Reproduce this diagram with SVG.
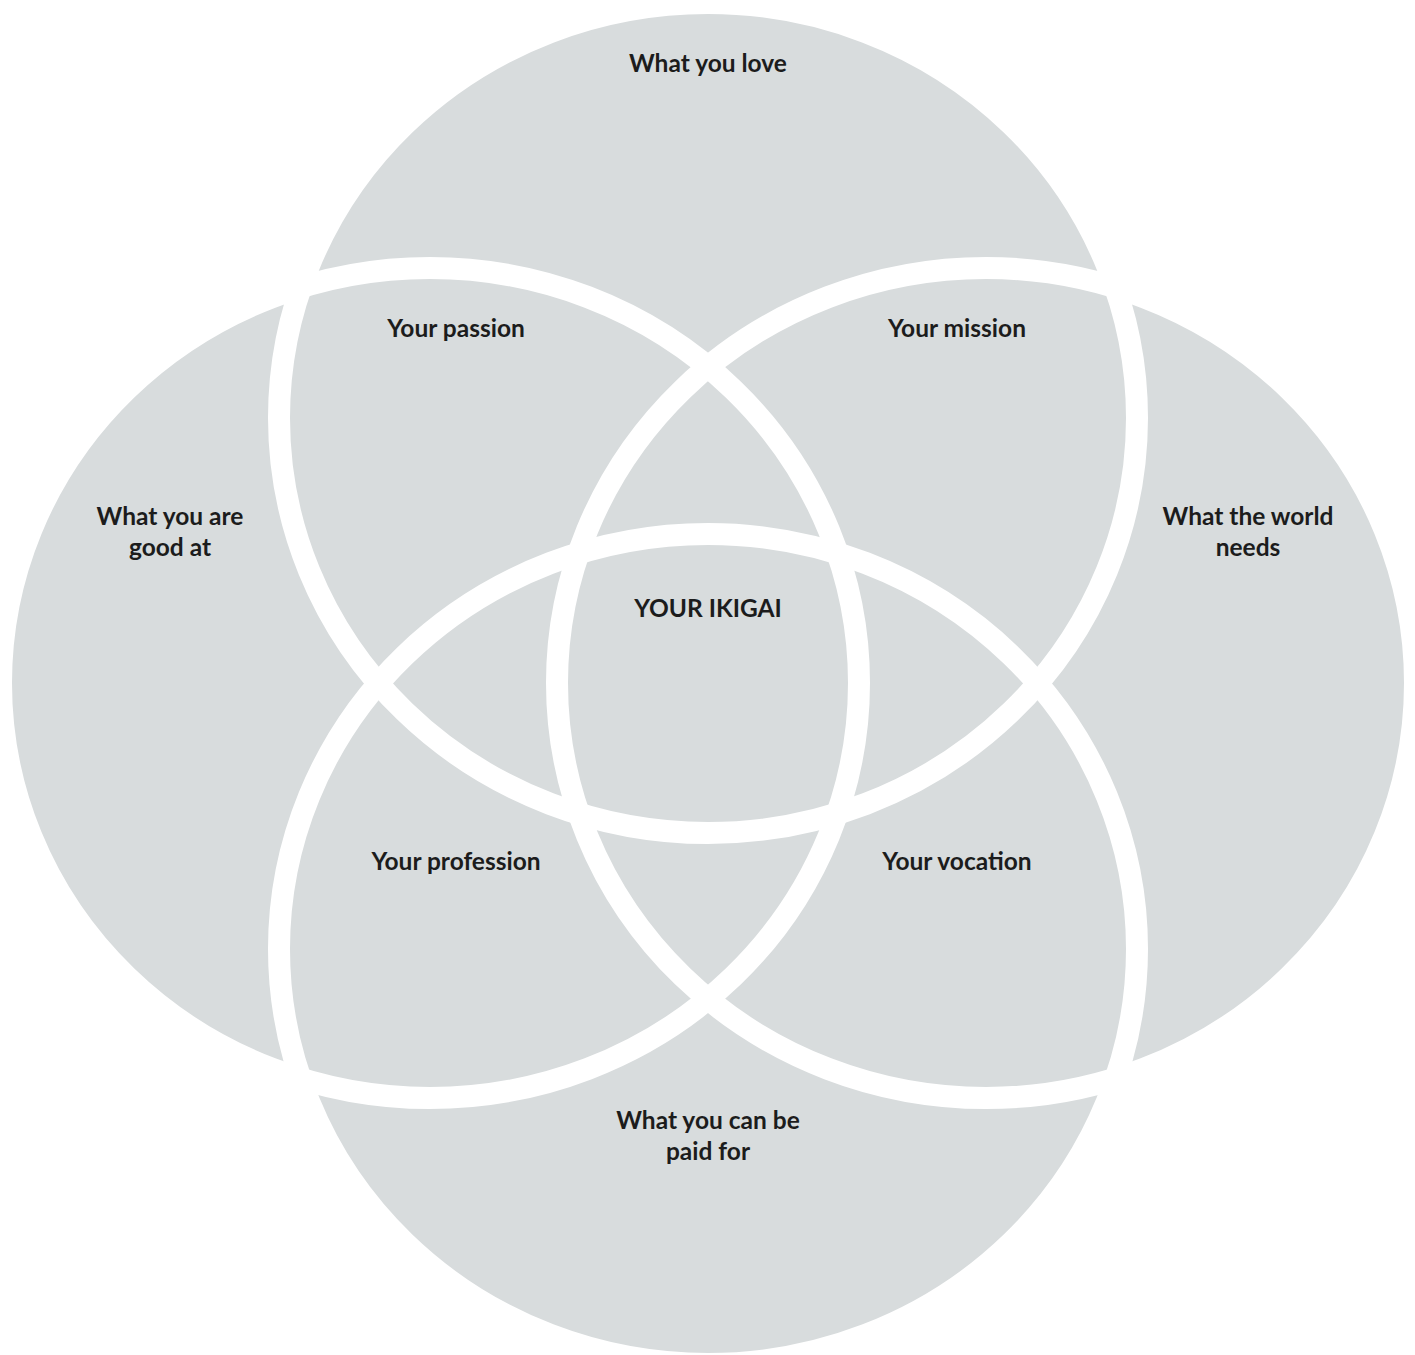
<svg xmlns="http://www.w3.org/2000/svg" width="1415" height="1355" viewBox="0 0 1415 1355">
  <style>
    .fill { fill: #d8dcdd; stroke: none; }
    .ring { fill: none; stroke: #ffffff; stroke-width: 22; }
    .lbl { font-family: Lato, "Liberation Sans", sans-serif; font-weight: 700; font-size: 24.5px; fill: #1c1c1c; text-anchor: middle; }
  </style>
  <rect width="1415" height="1355" fill="#ffffff"/>
  <g id="fills">
    <ellipse class="fill" cx="708" cy="418" rx="429" ry="415"/>
    <ellipse class="fill" cx="430" cy="683" rx="429" ry="415"/>
    <ellipse class="fill" cx="986" cy="683" rx="429" ry="415"/>
    <ellipse class="fill" cx="708" cy="949" rx="429" ry="415"/>
  </g>
  <g id="rings">
    <ellipse class="ring" cx="708" cy="418" rx="429" ry="415"/>
    <ellipse class="ring" cx="430" cy="683" rx="429" ry="415"/>
    <ellipse class="ring" cx="986" cy="683" rx="429" ry="415"/>
    <ellipse class="ring" cx="708" cy="949" rx="429" ry="415"/>
  </g>
  <g id="labels">
    <g id="love"><text class="lbl" x="708" y="72">What you love</text></g>
    <g id="good"><text class="lbl" x="170" y="525">What you are</text><text class="lbl" x="170" y="556">good at</text></g>
    <g id="world"><text class="lbl" x="1248" y="525">What the world</text><text class="lbl" x="1248" y="556">needs</text></g>
    <g id="paid"><text class="lbl" x="708" y="1129">What you can be</text><text class="lbl" x="708" y="1160">paid for</text></g>
    <g id="passion"><text class="lbl" x="456" y="337">Your passion</text></g>
    <g id="mission"><text class="lbl" x="957" y="337">Your mission</text></g>
    <g id="profession"><text class="lbl" x="456" y="870">Your profession</text></g>
    <g id="vocation"><text class="lbl" x="957" y="870">Your vocation</text></g>
    <g id="ikigai"><text class="lbl" x="708" y="617">YOUR IKIGAI</text></g>
  </g>
</svg>
